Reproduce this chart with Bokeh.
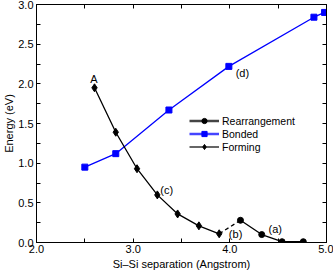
from bokeh.plotting import figure
from bokeh.models import (FixedTicker, LinearAxis, Legend, LegendItem, ColumnDataSource, Range1d,
                          Label, PrintfTickFormatter, CustomJSTickFormatter)
from bokeh.embed import file_html
from bokeh.resources import INLINE

# Data
forming_x = [2.60, 2.82, 3.04, 3.25, 3.46, 3.68, 3.89]
forming_y = [1.95, 1.39, 0.93, 0.60, 0.36, 0.21, 0.11]
rearr_x = [4.11, 4.33, 4.54, 4.76]
rearr_y = [0.28, 0.10, 0.01, 0.01]
bonded_x = [2.50, 2.82, 3.37, 3.99, 4.87, 4.98]
bonded_y = [0.95, 1.12, 1.67, 2.22, 2.84, 2.90]

x_major = [2.0, 3.0, 4.0, 5.0]
x_minor = [2.5, 3.5, 4.5]
y_major = [0.0, 0.5, 1.0, 1.5, 2.0, 2.5, 3.0]
y_minor = [0.25, 0.75, 1.25, 1.75, 2.25, 2.75]

ann_text = ["A", "(d)", "(c)", "(b)", "(a)"]
ann_x = [2.555, 4.06, 3.28, 3.99, 4.40]
ann_y = [1.99, 2.14, 0.66, 0.11, 0.17]

FONT = "Liberation Sans"

p = figure(width=333, height=272, output_backend="svg", toolbar_location=None,
           x_range=Range1d(2.0, 5.0), y_range=Range1d(0.0, 3.0),
           min_border_left=36, min_border_right=7, min_border_top=4, min_border_bottom=29,
           x_axis_label="Si\u2013Si separation (Angstrom)", y_axis_label="Energy (eV)")
p.grid.visible = False
p.outline_line_color = "black"
p.outline_line_width = 1
p.background_fill_color = "white"
p.border_fill_color = "white"

for ax in p.xaxis:
    ax.ticker = FixedTicker(ticks=x_major, minor_ticks=x_minor)
for ax in p.yaxis:
    ax.ticker = FixedTicker(ticks=y_major, minor_ticks=y_minor)

def style(ax, labels=True):
    ax.major_tick_in = 4
    ax.major_tick_out = 0
    ax.minor_tick_in = 4
    ax.minor_tick_out = 0
    ax.axis_line_color = "black"
    ax.major_tick_line_color = "black"
    ax.minor_tick_line_color = "black"
    ax.major_label_text_font = FONT
    ax.major_label_text_font_size = "11px"
    ax.major_label_text_color = "black"
    ax.axis_label_text_font = FONT
    ax.axis_label_text_font_size = "11px"
    ax.axis_label_text_font_style = "normal"
    ax.axis_label_text_color = "black"
    if labels:
        ax.formatter = PrintfTickFormatter(format="%.1f")
    else:
        ax.formatter = CustomJSTickFormatter(code="return ''")
        ax.major_label_standoff = 0

style(p.xaxis[0])
style(p.yaxis[0])
p.xaxis[0].major_label_standoff = 2
p.xaxis[0].axis_label_standoff = 2
p.yaxis[0].major_label_standoff = 3
p.yaxis[0].axis_label_standoff = 0

top = LinearAxis(ticker=FixedTicker(ticks=x_major, minor_ticks=x_minor))
style(top, labels=False)
p.add_layout(top, "above")
right = LinearAxis(ticker=FixedTicker(ticks=y_major, minor_ticks=y_minor))
style(right, labels=False)
p.add_layout(right, "right")

# Series
p.line(bonded_x, bonded_y, line_color="#0000ff", line_width=1.3)
p.scatter(bonded_x, bonded_y, marker="square", size=6, color="#0000ff")

p.line(forming_x, forming_y, line_color="black", line_width=1.3)
p.scatter(forming_x, forming_y, marker="diamond", size=8, color="black")

p.line([forming_x[-1], rearr_x[0]], [forming_y[-1], rearr_y[0]],
       line_color="black", line_width=1.3, line_dash="4 3")

p.line(rearr_x, rearr_y, line_color="black", line_width=1.3)
p.scatter(rearr_x, rearr_y, marker="circle", size=6, color="black")

# Legend-only renderers (single NaN point, never drawn in the plot)
def blank():
    return ColumnDataSource(dict(x=[float("nan")], y=[float("nan")]))

lr1 = p.line(x="x", y="y", source=blank(), line_color="#444444", line_width=2.5)
lr1s = p.scatter(x="x", y="y", source=blank(), marker="circle", size=6, color="black")
lr2 = p.line(x="x", y="y", source=blank(), line_color="#4444ff", line_width=2.5)
lr2s = p.scatter(x="x", y="y", source=blank(), marker="square", size=6, color="#0000ff")
lr3 = p.line(x="x", y="y", source=blank(), line_color="black", line_width=1.2)
lr3s = p.scatter(x="x", y="y", source=blank(), marker="diamond", size=8, color="black")

legend = Legend(items=[
    LegendItem(label="Rearrangement", renderers=[lr1, lr1s]),
    LegendItem(label="Bonded", renderers=[lr2, lr2s]),
    LegendItem(label="Forming", renderers=[lr3, lr3s]),
], location=(153, 89))
legend.background_fill_alpha = 0
legend.border_line_alpha = 0
legend.label_text_font = FONT
legend.label_text_font_size = "10.5px"
legend.label_text_color = "black"
legend.glyph_width = 30
legend.glyph_height = 13
legend.label_height = 13
legend.spacing = 0
legend.padding = 0
legend.margin = 0
legend.label_standoff = 3
p.add_layout(legend)

# Annotations
for t, x, y in zip(ann_text, ann_x, ann_y):
    p.add_layout(Label(x=x, y=y, text=t, text_font=FONT, text_font_size="11px",
                       text_color="black", text_baseline="bottom" if t == "A" else "middle",
                       text_align="left"))

open("out.html", "w").write(file_html(p, INLINE))
